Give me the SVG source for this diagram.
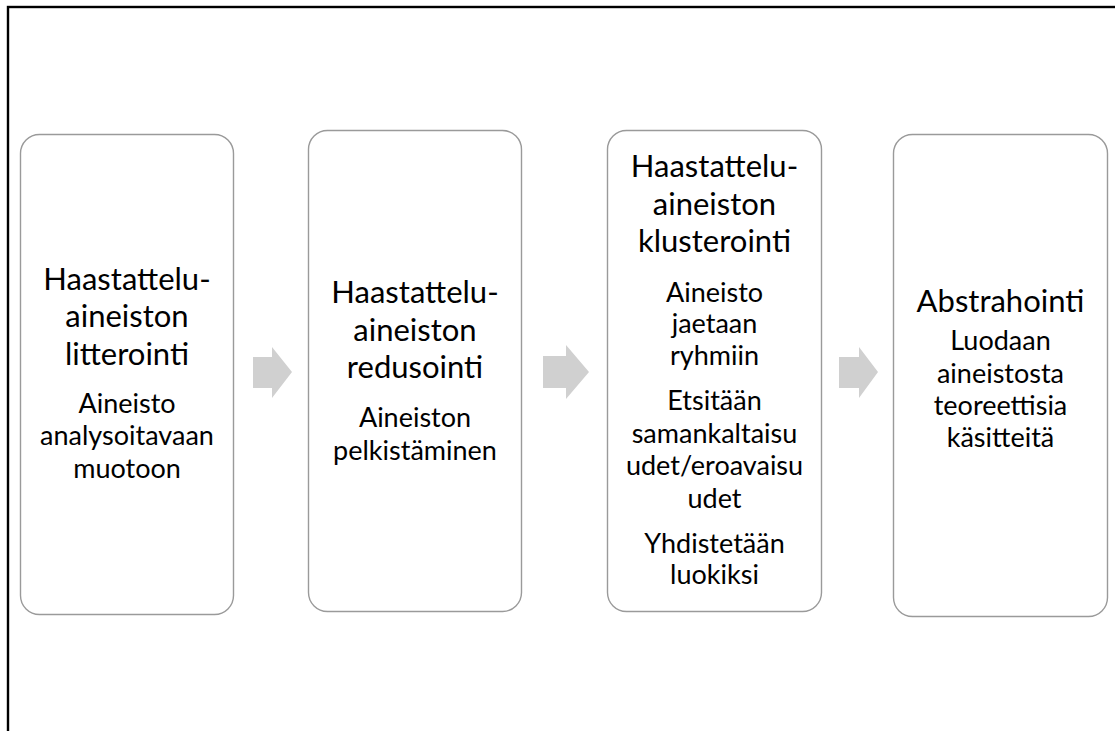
<svg xmlns="http://www.w3.org/2000/svg" width="1115" height="731" viewBox="0 0 1115 731">
<style>
.box{fill:#fff;stroke:#9a9a9a;stroke-width:1.4}
.arr{fill:#d0d0d0}
text{font-family:Lato,"Open Sans",sans-serif;fill:#000;text-anchor:middle}
.t{font-size:31px}
.s{font-size:27px}
</style>
<rect x="0" y="0" width="1115" height="731" fill="#fff"/>
<rect x="8" y="7" width="1130" height="750" fill="none" stroke="#000" stroke-width="2.4"/>
<g id="connectors">
<path class="arr" d="M253,357 H272 V347 L292,372 L272,398 V388 H253 Z"/>
<path class="arr" d="M543,356 H566 V345 L589,372 L566,399 V388 H543 Z"/>
<path class="arr" d="M839,357 H859 V347 L878,372 L859,398 V388 H839 Z"/>
</g>
<g id="node1">
<rect class="box" x="20.5" y="134.5" width="213" height="480" rx="19"/>
<text class="t" x="127" y="290">Haastattelu-</text>
<text class="t" x="127" y="327">aineiston</text>
<text class="t" x="127" y="365">litterointi</text>
<text class="s" x="127" y="413">Aineisto</text>
<text class="s" x="127" y="445">analysoitavaan</text>
<text class="s" x="127" y="478">muotoon</text>
</g>
<g id="node2">
<rect class="box" x="308.5" y="130.5" width="213" height="481" rx="19"/>
<text class="t" x="415" y="303">Haastattelu-</text>
<text class="t" x="415" y="341">aineiston</text>
<text class="t" x="415" y="378">redusointi</text>
<text class="s" x="415" y="427">Aineiston</text>
<text class="s" x="415" y="460">pelkistäminen</text>
</g>
<g id="node3">
<rect class="box" x="607.5" y="130.5" width="214" height="481" rx="19"/>
<text class="t" x="714.5" y="177">Haastattelu-</text>
<text class="t" x="714.5" y="215">aineiston</text>
<text class="t" x="714.5" y="252">klusterointi</text>
<text class="s" x="714.5" y="302">Aineisto</text>
<text class="s" x="714.5" y="333">jaetaan</text>
<text class="s" x="714.5" y="365">ryhmiin</text>
<text class="s" x="714.5" y="410">Etsitään</text>
<text class="s" x="714.5" y="443">samankaltaisu</text>
<text class="s" x="714.5" y="475">udet/eroavaisu</text>
<text class="s" x="714.5" y="508">udet</text>
<text class="s" x="714.5" y="553">Yhdistetään</text>
<text class="s" x="714.5" y="584">luokiksi</text>
</g>
<g id="node4">
<rect class="box" x="893.5" y="134.5" width="214" height="482" rx="19"/>
<text class="t" x="1000.5" y="312">Abstrahointi</text>
<text class="s" x="1000.5" y="350">Luodaan</text>
<text class="s" x="1000.5" y="383">aineistosta</text>
<text class="s" x="1000.5" y="415">teoreettisia</text>
<text class="s" x="1000.5" y="447">käsitteitä</text>
</g>
</svg>
